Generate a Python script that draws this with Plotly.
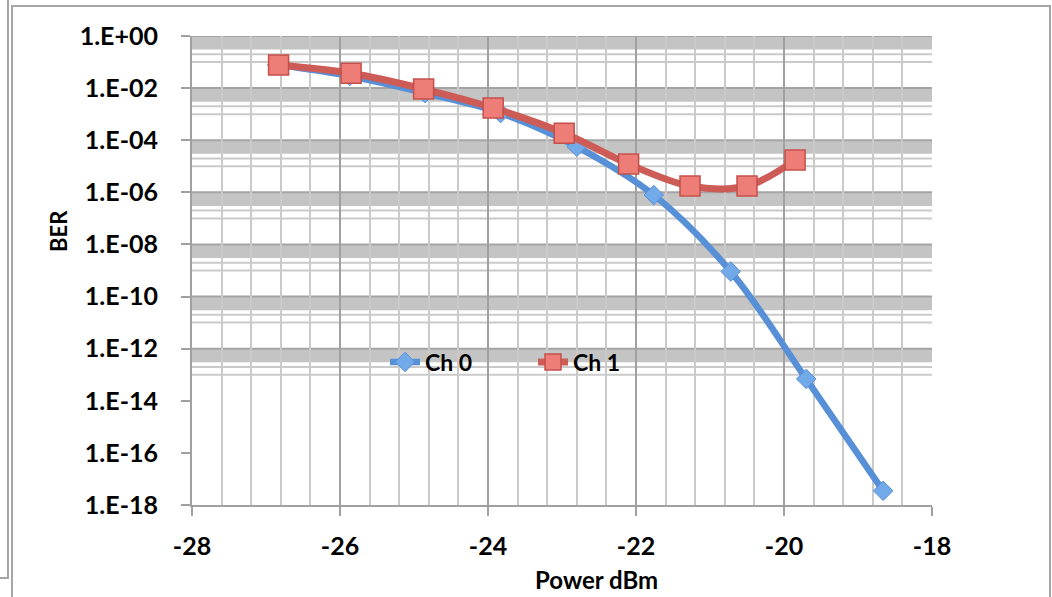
import plotly.graph_objects as go

# ---- data ----
power_ch0 = [-26.85, -25.87, -24.85, -23.83, -22.80, -21.76, -20.72, -19.70, -18.66]
ber_ch0 = [7.8e-2, 2.9e-2, 6.4e-3, 1.1e-3, 5.6e-5, 7.9e-7, 9.1e-10, 6.9e-14, 3.5e-18]

power_ch1 = [-26.83, -25.85, -24.87, -23.93, -22.97, -22.10, -21.27, -20.50, -19.85]
ber_ch1 = [7.7e-2, 3.7e-2, 9.2e-3, 1.73e-3, 1.85e-4, 1.22e-5, 1.75e-6, 1.75e-6, 1.74e-5]

series_names = ["Ch 0", "Ch 1"]
y_tick_vals = [10.0 ** (-e) for e in range(0, 19, 2)]
y_tick_text = ["1.E+00"] + ["1.E-%02d" % e for e in range(2, 19, 2)]
x_tick_vals = [-28, -26, -24, -22, -20, -18]
x_tick_text = ["-28", "-26", "-24", "-22", "-20", "-18"]
grid_decades = [0, 2, 4, 6, 8, 10, 12]   # decades that carry horizontal grid bands

FONT = "Lato"
W, H = 1052, 597
L, R, T, B = 192, 120, 36, 92
PW, PH = W - L - R, H - T - B


def px(xp):
    return (xp - L) / PW


def py(yp):
    return (H - B - yp) / PH


fig = go.Figure()

fig.add_trace(go.Scatter(
    x=power_ch0, y=ber_ch0, name=series_names[0], mode="lines+markers",
    line=dict(color="#5790D6", width=6.5, shape="spline", smoothing=1.0),
    marker=dict(symbol="diamond", size=15, color="#72A9E8",
                line=dict(color="#5790D6", width=1)),
))
fig.add_trace(go.Scatter(
    x=power_ch1, y=ber_ch1, name=series_names[1], mode="lines+markers",
    line=dict(color="#CD5B56", width=7, shape="spline", smoothing=1.0),
    marker=dict(symbol="square", size=20, color="#EE7C77",
                line=dict(color="#C4504B", width=1.5)),
))

shapes = []
for d in grid_decades:
    M = 10.0 ** (-d)
    shapes.append(dict(type="rect", xref="paper", yref="y", x0=0, x1=1,
                       y0=0.3 * M, y1=M, fillcolor="#C4C4C4",
                       line=dict(width=0), layer="below"))
    for m in (0.2, 0.1):
        shapes.append(dict(type="line", xref="paper", yref="y", x0=0, x1=1,
                           y0=m * M, y1=m * M,
                           line=dict(color="#CACACA", width=2), layer="below"))
    shapes.append(dict(type="line", xref="paper", yref="y", x0=0, x1=1,
                       y0=M, y1=M, line=dict(color="#A4A4A4", width=2),
                       layer="below"))

# outer chart frames
frame = dict(color="#A6A6A6", width=2)
shapes.append(dict(type="path", xref="paper", yref="paper",
                   path="M %f %f L %f %f L %f %f L %f %f" % (
                       px(12), py(600), px(12), py(6), px(1050), py(6), px(1050), py(600)),
                   line=frame, layer="above"))
shapes.append(dict(type="path", xref="paper", yref="paper",
                   path="M %f %f L %f %f L %f %f" % (
                       px(8), py(-2), px(8), py(578), px(-2), py(578)),
                   line=frame, layer="above"))

tick_font = dict(family=FONT, size=25, color="#000000", weight="bold")

fig.update_layout(
    width=W, height=H,
    margin=dict(l=L, r=R, t=T, b=B, autoexpand=False),
    paper_bgcolor="white", plot_bgcolor="white",
    showlegend=True,
    legend=dict(orientation="h", x=px(385), y=py(362), xanchor="left",
                yanchor="middle", bgcolor="rgba(0,0,0,0)",
                font=dict(family=FONT, size=23, color="#000000", weight="bold"),
                entrywidth=103, itemsizing="trace", tracegroupgap=0),
    shapes=shapes,
    annotations=[
        dict(text="BER", xref="paper", yref="paper", x=px(58), y=py(231),
             xanchor="center", yanchor="middle",
             showarrow=False, textangle=-90,
             font=dict(family=FONT, size=22, color="#000000", weight="bold")),
        dict(text="Power dBm", xref="paper", yref="paper", x=px(596), y=py(579),
             xanchor="center", yanchor="middle",
             showarrow=False,
             font=dict(family=FONT, size=24, color="#000000", weight="bold")),
    ],
    xaxis=dict(
        range=[-28, -18], tickmode="array", tickvals=x_tick_vals,
        ticktext=x_tick_text,
        ticks="outside", ticklen=9, tickwidth=2, tickcolor="#A0A0A0",
        showline=True, linecolor="#A0A0A0", linewidth=2,
        showgrid=True, gridcolor="#A0A0A0", gridwidth=2,
        minor=dict(dtick=0.4, tick0=-28, showgrid=True, gridcolor="#CACACA",
                   gridwidth=2),
        zeroline=False, tickfont=tick_font, ticklabelstandoff=9,
        automargin=False,
    ),
    yaxis=dict(
        type="log", range=[-18, 0], tickmode="array",
        tickvals=y_tick_vals, ticktext=y_tick_text,
        ticks="outside", ticklen=9, tickwidth=2, tickcolor="#A0A0A0",
        showline=True, linecolor="#A0A0A0", linewidth=2,
        showgrid=False, zeroline=False, tickfont=tick_font,
        ticklabelstandoff=18, automargin=False,
    ),
)

fig.write_html("out.html", config={"displayModeBar": False},
               post_script="document.body.style.margin='0px';document.body.style.overflow='hidden';")
